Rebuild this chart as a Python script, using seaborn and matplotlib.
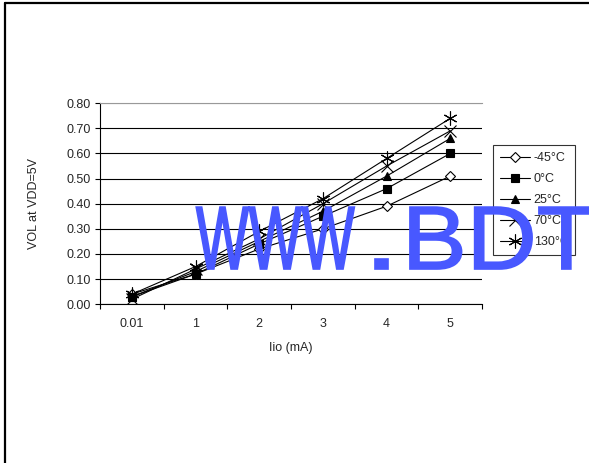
import numpy as np
import pandas as pd
import matplotlib
matplotlib.use('Agg')
import matplotlib.pyplot as plt
import seaborn as sns
from matplotlib.ticker import FixedLocator, FixedFormatter, NullFormatter
from matplotlib.textpath import TextPath
from matplotlib.patches import PathPatch
from matplotlib.font_manager import FontProperties
from matplotlib.transforms import Affine2D, IdentityTransform
from matplotlib.lines import Line2D

# data
iio = ['0.01', '1', '2', '3', '4', '5']
temps = ['-45°C', '0°C', '25°C', '70°C', '130°C']
vol_m45 = [0.04, 0.12, 0.22, 0.30, 0.39, 0.51]
vol_0 = [0.03, 0.12, 0.24, 0.35, 0.46, 0.60]
vol_25 = [0.03, 0.13, 0.25, 0.37, 0.51, 0.66]
vol_70 = [0.02, 0.14, 0.26, 0.40, 0.55, 0.69]
vol_130 = [0.04, 0.15, 0.29, 0.42, 0.58, 0.74]
yticks = [0.0, 0.1, 0.2, 0.3, 0.4, 0.5, 0.6, 0.7, 0.8]

series = [vol_m45, vol_0, vol_25, vol_70, vol_130]
markers = ['D', 's', '^', 'x', (6, 2, 0)]
msizes = [5, 6, 6, 8, 10]
facecolors = ['white', 'black', 'black', 'black', 'black']

sns.set_theme(style='white')
plt.rcParams['font.family'] = ['Liberation Sans', 'DejaVu Sans']

fig = plt.figure(figsize=(5.89, 4.63), dpi=100)
ax = fig.add_axes([0.170, 0.343, 0.6486, 0.4341])

for vals, lab, mk, ms, fc in zip(series, temps, markers, msizes, facecolors):
    df = pd.DataFrame({'Iio': iio, 'VOL': vals})
    sns.lineplot(data=df, x='Iio', y='VOL', sort=False, ax=ax, color='black',
                 linewidth=0.8, marker=mk, markersize=ms, markerfacecolor=fc,
                 markeredgecolor='black', markeredgewidth=0.8, label=lab)

ax.set_ylim(0, 0.8)
ax.set_xlim(-0.5, 5.5)
ax.set_yticks(yticks)
ax.set_yticklabels([f'{v:.2f}' for v in yticks])
ax.xaxis.set_major_locator(FixedLocator(np.arange(-0.5, 6, 1)))
ax.xaxis.set_major_formatter(NullFormatter())
ax.xaxis.set_minor_locator(FixedLocator(np.arange(len(iio))))
ax.xaxis.set_minor_formatter(FixedFormatter(iio))
ax.tick_params(axis='x', which='major', direction='out', length=3.5, width=0.8,
               color='black', bottom=True)
ax.tick_params(axis='x', which='minor', length=0, pad=10, labelsize=9, bottom=True)
ax.tick_params(axis='y', which='major', direction='out', length=3.5, width=0.8,
               color='black', labelsize=9, pad=3, left=True)

ax.yaxis.grid(True, color='black', linewidth=0.8)
ax.get_ygridlines()[-1].set_color('#999999')
ax.set_axisbelow(True)
ax.spines['right'].set_visible(False)
ax.spines['top'].set_color('#999999')
ax.spines['top'].set_linewidth(0.8)
for side in ['left', 'bottom']:
    ax.spines[side].set_color('black')
    ax.spines[side].set_linewidth(0.8)

ax.set_xlabel('Iio (mA)', fontsize=9)
ax.set_ylabel('VOL at VDD=5V', fontsize=9)
ax.xaxis.set_label_coords(0.5, -0.19)
ax.yaxis.set_label_coords(-0.157, 0.5)

leg = ax.legend(loc='upper left', bbox_to_anchor=(493 / 589, (463 - 145) / 463),
                bbox_transform=fig.transFigure, borderaxespad=0, fontsize=9,
                frameon=True, fancybox=False, shadow=False, handlelength=2.4,
                handletextpad=0.3, labelspacing=0.72, borderpad=0.55)
leg.get_frame().set_edgecolor('black')
leg.get_frame().set_linewidth(0.8)

# page frame lines (top and left)
fig.add_artist(Line2D([5 / 589, 1], [1 - 3 / 463, 1 - 3 / 463], transform=fig.transFigure,
                      color='black', linewidth=1.6))
fig.add_artist(Line2D([5 / 589, 5 / 589], [0, 1 - 3 / 463], transform=fig.transFigure,
                      color='black', linewidth=1.6))

# blue watermark text across the plot
def stamp(txt, x0, sx, sy=0.9, base=194):
    tp = TextPath((0, 0), txt, size=100, prop=FontProperties(family='Liberation Sans'))
    tr = Affine2D().scale(sx, sy).translate(x0, base)
    patch = PathPatch(tr.transform_path(tp), facecolor='#4858ff', edgecolor='#4858ff',
                      linewidth=1.2, transform=IdentityTransform(), zorder=20)
    fig.add_artist(patch)

stamp('WWW', 196, 0.56)
stamp('.', 362, 1.4)
stamp('BDTIC.COM', 402, 0.97)

fig.savefig('out.png', dpi=100)
